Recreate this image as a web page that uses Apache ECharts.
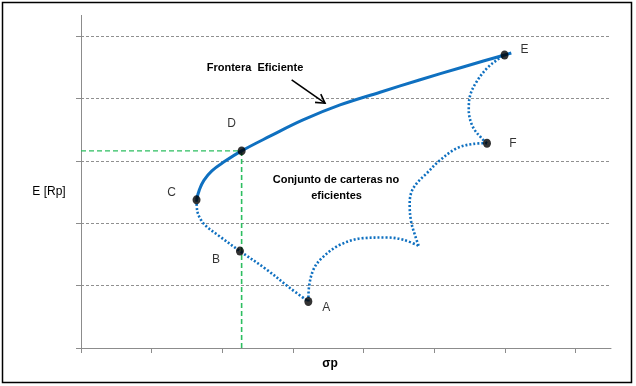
<!DOCTYPE html>
<html><head><meta charset="utf-8">
<script src="https://cdn.jsdelivr.net/npm/echarts@6/dist/echarts.min.js"></script>
<style>html,body{margin:0;padding:0;background:#fff}#c{width:636px;height:386px}</style>
</head><body><div id="c"></div>
<script>
// Efficient frontier (solid) from C through D to E
const frontier = [[1.635,2.374],[1.675,2.534],[1.739,2.687],[1.852,2.839],[2.024,2.983],[2.273,3.159],[2.674,3.394],[3.142,3.655],[3.666,3.895],[4.233,4.099],[4.800,4.299],[5.395,4.500],[5.994,4.696],[6.089,4.728]];
// Non-efficient boundary (dotted), in four pieces
const dotCBA = [[1.635,2.374],[1.645,2.198],[1.739,1.990],[1.965,1.787],[2.249,1.553],[2.627,1.257],[2.957,0.961],[3.217,0.746]];
const dotACusp = [[3.217,0.746],[3.227,0.981],[3.288,1.253],[3.407,1.441],[3.666,1.654],[3.996,1.761],[4.328,1.771],[4.563,1.734],[4.778,1.638]];
const dotCuspF = [[4.778,1.638],[4.729,1.798],[4.672,2.022],[4.651,2.294],[4.672,2.486],[4.753,2.642],[4.894,2.802],[5.059,2.988],[5.320,3.202],[5.555,3.271],[5.745,3.282]];
const dotFE = [[5.745,3.282],[5.664,3.367],[5.543,3.548],[5.487,3.815],[5.508,4.055],[5.600,4.271],[5.742,4.480],[5.886,4.616],[5.994,4.696]];
// Named portfolios
const pointNames = ['A','B','C','D','E','F'];
const pointX = [3.217,2.249,1.635,2.273,5.994,5.745];
const pointY = [0.746,1.553,2.374,3.159,4.696,3.282];
const labelOffsets = [[18,6],[-24,9],[-25,-7],[-10,-27],[20,-5],[26,0]];
const xTicks = [0,1,2,3,4,5,6,7];
const arrowStart = [2.981,4.296];
const arrowEnd = [3.453,3.923];

const D = [pointX[3], pointY[3]];
const blue = '#0F70C0';
const dotStyle = {color: blue, width: 2.6, type: [2, 2], cap: 'butt'};
const dotSeries = [dotCBA, dotACusp, dotCuspF, dotFE].map(d => ({
  type: 'line', data: d, smooth: 0.35, symbol: 'none', lineStyle: dotStyle, z: 3, silent: true
}));

const chart = echarts.init(document.getElementById('c'), null, {renderer: 'canvas'});
chart.setOption({
  animation: false,
  backgroundColor: '#fff',
  grid: {left: 81, right: 25, top: 36, bottom: 38},
  xAxis: {
    type: 'value', min: 0, max: 7.5, interval: 1,
    axisLine: {lineStyle: {color: '#8c8c8c', width: 1}},
    axisTick: {show: true, length: 5, customValues: xTicks, lineStyle: {color: '#8c8c8c'}},
    axisLabel: {show: false},
    splitLine: {show: false}
  },
  yAxis: {
    type: 'value', min: 0, max: 5, interval: 1,
    axisLine: {show: true, lineStyle: {color: '#8c8c8c', width: 1}},
    axisTick: {show: true, length: 5, lineStyle: {color: '#8c8c8c'}},
    axisLabel: {show: false},
    splitLine: {show: true, lineStyle: {color: '#909090', width: 1, type: [3, 2]}}
  },
  series: [
    {type: 'line', data: [[0, D[1]], D], symbol: 'none', lineStyle: {color: '#2DBE60', width: 1.4, type: [5, 3]}, z: 2, silent: true},
    {type: 'line', data: [D, [D[0], 0]], symbol: 'none', lineStyle: {color: '#2DBE60', width: 1.6, type: [5, 3]}, z: 2, silent: true},
    ...dotSeries,
    {type: 'line', data: frontier, smooth: 0.4, symbol: 'none', lineStyle: {color: blue, width: 3}, z: 4, silent: true},
    {type: 'scatter', z: 5, symbol: 'circle', symbolSize: [8, 9], itemStyle: {color: '#000'},
      data: pointNames.map((n, i) => ({
        value: [pointX[i], pointY[i]], name: n,
        label: {show: true, formatter: n, position: 'inside', offset: labelOffsets[i],
          color: '#000', fontSize: 12, fontFamily: 'Arial, "Liberation Sans", sans-serif'}
      }))
    }
  ]
});

const p0 = chart.convertToPixel({gridIndex: 0}, arrowStart);
const p1 = chart.convertToPixel({gridIndex: 0}, arrowEnd);
const ang = Math.atan2(p1[1] - p0[1], p1[0] - p0[0]);
const hl = 10, ha = Math.PI / 6;
const h1 = [p1[0] - hl * Math.cos(ang - ha), p1[1] - hl * Math.sin(ang - ha)];
const h2 = [p1[0] - hl * Math.cos(ang + ha), p1[1] - hl * Math.sin(ang + ha)];
const topY = chart.convertToPixel({gridIndex: 0}, [0, 5]);
const font = 'Arial, "Liberation Sans", sans-serif';
chart.setOption({
  graphic: [
    {type: 'rect', shape: {x: 2.5, y: 2.5, width: 629, height: 380}, style: {fill: 'none', stroke: '#000', lineWidth: 1.5}, silent: true},
    {type: 'line', shape: {x1: topY[0] + 0.5, y1: 15, x2: topY[0] + 0.5, y2: topY[1]}, style: {stroke: '#8c8c8c', lineWidth: 1}, silent: true},
    {type: 'line', shape: {x1: p0[0], y1: p0[1], x2: p1[0], y2: p1[1]}, style: {stroke: '#000', lineWidth: 1.6}, silent: true, z: 10},
    {type: 'polyline', shape: {points: [h1, p1, h2]}, style: {stroke: '#000', lineWidth: 1.6, fill: 'none'}, silent: true, z: 10},
    {type: 'text', x: 255, y: 68, style: {text: 'Frontera  Eficiente', font: 'bold 11px ' + font, fill: '#000', align: 'center', verticalAlign: 'middle'}, silent: true},
    {type: 'text', x: 336, y: 180, style: {text: 'Conjunto de carteras no', font: 'bold 11px ' + font, fill: '#000', align: 'center', verticalAlign: 'middle'}, silent: true},
    {type: 'text', x: 336.5, y: 195.5, style: {text: 'eficientes', font: 'bold 11px ' + font, fill: '#000', align: 'center', verticalAlign: 'middle'}, silent: true},
    {type: 'text', x: 49, y: 192, style: {text: 'E [Rp]', font: '12px ' + font, fill: '#000', align: 'center', verticalAlign: 'middle'}, silent: true},
    {type: 'text', x: 330, y: 364, style: {text: 'σp', font: 'bold 12px ' + font, fill: '#000', align: 'center', verticalAlign: 'middle'}, silent: true}
  ]
});
</script>
</body></html>
